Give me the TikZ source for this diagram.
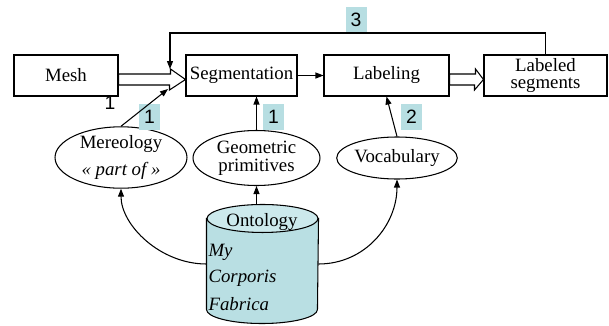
\documentclass[tikz,border=0pt]{standalone}
\usepackage{fontspec}
\setmainfont{Liberation Serif}
\newfontfamily\tagfont{Liberation Sans}
\usetikzlibrary{shapes.geometric,arrows.meta,calc}
\definecolor{tagteal}{RGB}{183,222,226}
\definecolor{dbbody}{RGB}{185,223,227}
\definecolor{dbtop}{RGB}{204,233,236}
\begin{document}
\begin{tikzpicture}[x=0.02cm,y=-0.02cm,line width=0.6pt,
    every node/.style={font=\fontsize{10.7}{12}\selectfont},
  box/.style={draw,minimum height=0.82cm,inner sep=0pt},
  oval/.style={draw,ellipse,inner sep=0pt,align=center},
  tag/.style={fill=tagteal,minimum width=0.42cm,minimum height=0.52cm,inner sep=0pt,
    font=\tagfont\fontsize{11}{12}\selectfont},
  dbtxt/.style={anchor=west,inner sep=0pt,font=\fontsize{10.7}{12}\selectfont\itshape},
  dbend/.style={x radius=1.11cm,y radius=0.28cm},
  arr/.style={-{Triangle[length=1.6mm,width=1.2mm]}},
  hollow/.style={fill=white,line join=miter},
  ]
\useasboundingbox (0,0) rectangle (609,325);
% processing chain
\node[box,minimum width=2.08cm] (mesh) at (66,75.5) {Mesh};
\node[box,minimum width=2.22cm] (seg) at (241.5,75.5) {Segmentation};
\node[box,minimum width=2.5cm] (lab) at (386.5,75.5) {Labeling};
\node[box,minimum width=2.46cm,align=center,font=\fontsize{10.7}{10}\selectfont] (labseg) at (545.5,75.5) {Labeled\\segments};
% knowledge
\node[oval,minimum width=2.64cm,minimum height=1.12cm] (mereo) at (121,157.5) {Mereology\\[3pt]\textit{« part of »}};
\node[oval,minimum width=2.54cm,minimum height=1.1cm,font=\fontsize{10.7}{10.5}\selectfont] (geo) at (256.5,158) {Geometric\\primitives};
\node[oval,minimum width=2.36cm,minimum height=0.84cm] (voc) at (397,158) {Vocabulary};
% database
\node[minimum width=2.22cm,minimum height=2.36cm,inner sep=0pt] (onto) at (262.5,264) {};
\filldraw[fill=dbbody] ($(onto.north west)+(0,14)$) -- ($(onto.south west)+(0,-14)$)
  arc[start angle=180,end angle=360,dbend] -- ($(onto.north east)+(0,14)$) -- cycle;
\filldraw[fill=dbtop] ($(onto.north)+(0,14)$) ellipse[dbend];
\node[inner sep=0pt] (ontotitle) at (262,222) {Ontology};
\node[dbtxt] (my) at (208,252) {My};
\node[dbtxt] (corp) at (208,278) {Corporis};
\node[dbtxt] (fab) at (208,304) {Fabrica};
% steps
\node[tag] (t3) at (356,20) {3};
\node[tag] (t1a) at (149.5,117) {1};
\node[tag] (t1b) at (273.5,117) {1};
\node[tag] (t2) at (411.5,117) {2};
\node[inner sep=0pt,font=\tagfont\fontsize{11}{12}\selectfont] (one) at (110,103) {1};
% connectors
\coordinate (fbtip) at (170,69);
\coordinate (mtip) at (168,89);
\draw[hollow] ($(mesh.east)+(0,-1.5)$) -- ++(52,0) -- ++(0,-5) -- ($(seg.west)+(0,4)$)
  -- ($(seg.west)+(-16,14.5)$) -- ++(0,-5) -- ($(mesh.east)+(0,9.5)$) -- cycle;
\draw[hollow] ($(lab.east)+(0,-1.5)$) -- ++(26,0) -- ++(0,-5) -- ($(labseg.west)+(0,4)$)
  -- ($(labseg.west)+(-9,14.5)$) -- ++(0,-5) -- ($(lab.east)+(0,9.5)$) -- cycle;
\draw[arr] (seg) -- (lab);
\draw[arr] (labseg.north) |- ($(fbtip)+(0,-36)$) -- (fbtip);
\draw[arr] (mereo.north) -- (mtip);
\draw[arr] (geo.north) -- (geo.north |- seg.south);
\draw[arr] (voc.north) -- (lab.south);
\draw[arr] (onto.north -| geo.south) -- (geo.south);
\draw[arr] (onto.west) .. controls (160,264) and (121,225) .. (mereo.south);
\draw[arr] (onto.east) .. controls (365,264) and (397,225) .. (voc.south);
\end{tikzpicture}
\end{document}
